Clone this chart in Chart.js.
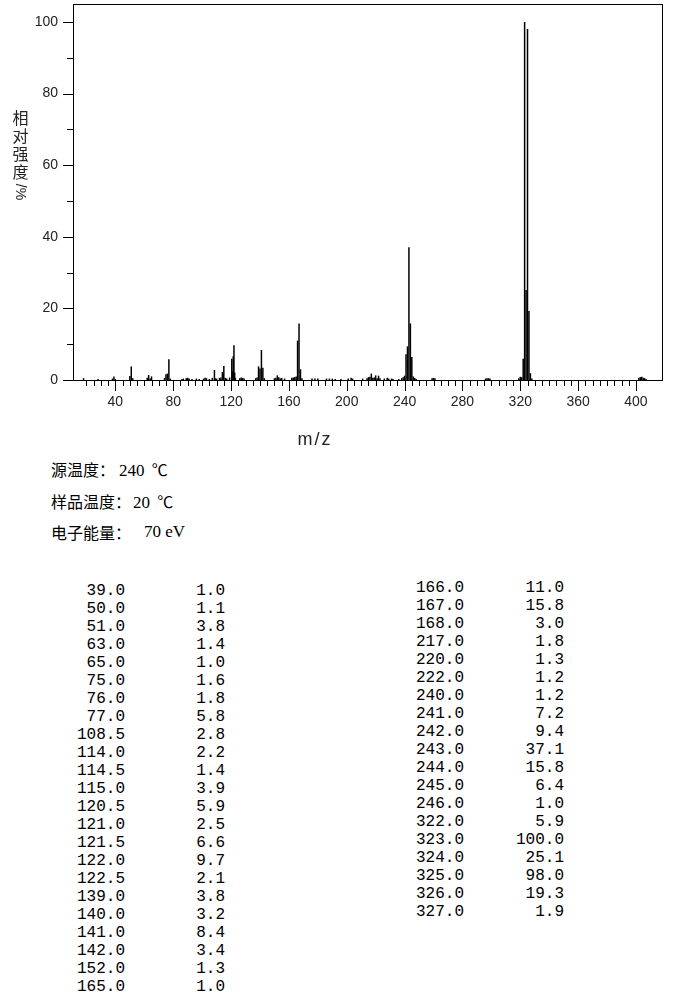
<!DOCTYPE html>
<html>
<head>
<meta charset="utf-8">
<script src="https://cdn.jsdelivr.net/npm/chart.js@4.4.0/dist/chart.umd.min.js"></script>
<style>
  body { margin: 0; background: #fff; width: 680px; height: 992px; overflow: hidden; position: relative; color: #000; }
  #box { position: absolute; left: 0; top: 0; width: 680px; height: 450px; }
  #ytitle { position: absolute; left: 12px; top: 108px; width: 17px; font-family: "Noto Sans CJK SC"; font-size: 16px; line-height: 18px; color: #222; text-align: center; }
  #ytitle .rot { display: block; transform: rotate(90deg); transform-origin: center; margin-top: 3px; font-family: "Liberation Sans"; font-size: 14px; }
  #xtitle { position: absolute; left: 285px; top: 429px; width: 60px; text-align: center; font-family: "Liberation Sans"; font-size: 18px; letter-spacing: 2px; color: #222; }
  .lab { position: absolute; left: 51px; font-family: "Noto Sans CJK SC"; font-size: 16px; line-height: 20px; }
  .val { position: absolute; font-family: "Liberation Serif"; font-size: 17px; line-height: 20px; }
  .cjk { font-family: "Noto Sans CJK SC"; font-size: 16px; }
  .cell { position: absolute; text-align: right; font-family: "Liberation Mono"; font-size: 16px; line-height: 18px; white-space: pre; }
</style>
</head>
<body>
<div id="box"><canvas id="ms"></canvas></div>
<div id="ytitle">相<br>对<br>强<br>度<span class="rot">/%</span></div>
<div id="xtitle">m/z</div>

<div class="lab" style="top:459px">源温度：</div>
<div class="val" style="top:459px;left:119px">240 <span class="cjk" style="margin-left:3px">℃</span></div>
<div class="lab" style="top:491px">样品温度：</div>
<div class="val" style="top:491px;left:133px">20 <span class="cjk" style="margin-left:3px">℃</span></div>
<div class="lab" style="top:522px">电子能量：</div>
<div class="val" style="top:522px;left:144px">70 eV</div>

<div id="table"></div>

<script>
// peaks listed in the table (m/z, relative intensity %)
const peakMz = [39.0, 50.0, 51.0, 63.0, 65.0, 75.0, 76.0, 77.0, 108.5, 114.0, 114.5, 115.0,
  120.5, 121.0, 121.5, 122.0, 122.5, 139.0, 140.0, 141.0, 142.0, 152.0, 165.0,
  166.0, 167.0, 168.0, 217.0, 220.0, 222.0, 240.0, 241.0, 242.0, 243.0, 244.0, 245.0,
  246.0, 322.0, 323.0, 324.0, 325.0, 326.0, 327.0];
const peakInt = [1.0, 1.1, 3.8, 1.4, 1.0, 1.6, 1.8, 5.8, 2.8, 2.2, 1.4, 3.9,
  5.9, 2.5, 6.6, 9.7, 2.1, 3.8, 3.2, 8.4, 3.4, 1.3, 1.0,
  11.0, 15.8, 3.0, 1.8, 1.3, 1.2, 1.2, 7.2, 9.4, 37.1, 15.8, 6.4,
  1.0, 5.9, 100.0, 25.1, 98.0, 19.3, 1.9];

// small peaks below 1 %
const minorMz = [18, 28, 38, 40, 52, 62, 64, 74, 78, 86, 87, 89, 90, 91, 93, 96, 98, 101, 102, 103,
  105, 107, 109, 110, 112, 113, 116, 117, 119, 123, 126, 127, 128, 129, 137, 138, 143, 150, 151,
  153, 154, 155, 157, 162, 163, 164, 169, 176, 178, 180, 186, 188, 190, 192, 196, 201, 203, 204,
  211, 214, 215, 216, 218, 219, 221, 223, 226, 228, 229, 231, 232, 236, 238, 239, 247, 248,
  259, 260, 261, 296, 297, 298, 299, 319, 320, 321, 328, 402, 403, 404, 405, 406, 407];
const minorInt = [0.5, 0.3, 0.4, 0.3, 0.5, 0.6, 0.4, 0.6, 0.4, 0.3, 0.4, 0.5, 0.6, 0.4, 0.3, 0.4, 0.3, 0.4, 0.6, 0.5,
  0.3, 0.6, 0.5, 0.4, 0.6, 0.7, 0.6, 0.4, 0.7, 0.6, 0.5, 0.7, 0.6, 0.4, 0.5, 0.7, 0.5, 0.5, 0.6,
  0.8, 0.4, 0.6, 0.4, 0.6, 0.7, 0.8, 0.5, 0.4, 0.4, 0.4, 0.4, 0.4, 0.4, 0.3, 0.3, 0.4, 0.6, 0.4,
  0.4, 0.5, 0.8, 0.9, 0.6, 0.7, 0.5, 0.5, 0.4, 0.6, 0.4, 0.4, 0.3, 0.3, 0.5, 0.8, 0.6, 0.3,
  0.5, 0.6, 0.5, 0.4, 0.5, 0.5, 0.4, 0.5, 0.9, 0.8, 0.4, 0.6, 0.8, 0.9, 0.6, 0.5, 0.3];

const xTickLabels = [40, 80, 120, 160, 200, 240, 280, 320, 360, 400];
const yTickLabels = [0, 20, 40, 60, 80, 100];

const axisPlugin = {
  id: 'msAxes',
  afterDraw(chart) {
    const { ctx, chartArea: a, scales: { x, y } } = chart;
    ctx.save();
    ctx.strokeStyle = '#000';
    ctx.lineWidth = 1;
    ctx.strokeRect(Math.round(a.left) + 0.5, Math.round(a.top) + 0.5,
      Math.round(a.right - a.left), Math.round(a.bottom - a.top));

    ctx.beginPath();
    for (let v = 0; v <= 100; v += 10) {
      const py = Math.round(y.getPixelForValue(v)) + 0.5;
      const len = v % 20 === 0 ? 10 : 6;
      ctx.moveTo(a.left - len, py);
      ctx.lineTo(a.left, py);
    }
    for (let v = 20; v <= 400; v += 5) {
      const px = Math.round(x.getPixelForValue(v)) + 0.5;
      const len = v % 40 === 0 ? 11 : 6;
      ctx.moveTo(px, a.bottom);
      ctx.lineTo(px, a.bottom + len);
    }
    ctx.stroke();

    ctx.fillStyle = '#222';
    ctx.font = '14px "Liberation Sans"';
    ctx.textBaseline = 'middle';
    ctx.textAlign = 'right';
    yTickLabels.forEach(v => ctx.fillText(String(v), a.left - 15, y.getPixelForValue(v)));
    ctx.textAlign = 'center';
    xTickLabels.forEach(v => ctx.fillText(String(v), x.getPixelForValue(v), a.bottom + 22));
    ctx.restore();
  }
};

const barStyle = { backgroundColor: '#000', barThickness: 1.5, inflateAmount: 0, borderWidth: 0, grouped: false };

new Chart(document.getElementById('ms'), {
  type: 'bar',
  data: {
    datasets: [
      Object.assign({ data: peakMz.map((m, i) => ({ x: m, y: peakInt[i] })) }, barStyle),
      Object.assign({ data: minorMz.map((m, i) => ({ x: m, y: minorInt[i] })) }, barStyle)
    ]
  },
  options: {
    responsive: true,
    maintainAspectRatio: false,
    animation: false,
    layout: { padding: { left: 73, top: 4, right: 18, bottom: 70 } },
    plugins: { legend: { display: false }, tooltip: { enabled: false } },
    scales: {
      x: { type: 'linear', min: 10.7, max: 418, offset: false, display: false },
      y: { min: 0, max: 105, display: false }
    }
  },
  plugins: [axisPlugin]
});

// peak table, two columns
const table = document.getElementById('table');
const leftRows = 23;
function cell(text, right, top) {
  const d = document.createElement('div');
  d.className = 'cell';
  d.style.left = (right - 120) + 'px';
  d.style.width = '120px';
  d.style.top = top + 'px';
  d.textContent = text;
  table.appendChild(d);
}
peakMz.forEach((m, i) => {
  const left = i < leftRows;
  const row = left ? i : i - leftRows;
  const top = (left ? 582 : 579) + row * 18;
  cell(m.toFixed(1), left ? 125 : 464, top);
  cell(peakInt[i].toFixed(1), left ? 225 : 564, top);
});
</script>
</body>
</html>
